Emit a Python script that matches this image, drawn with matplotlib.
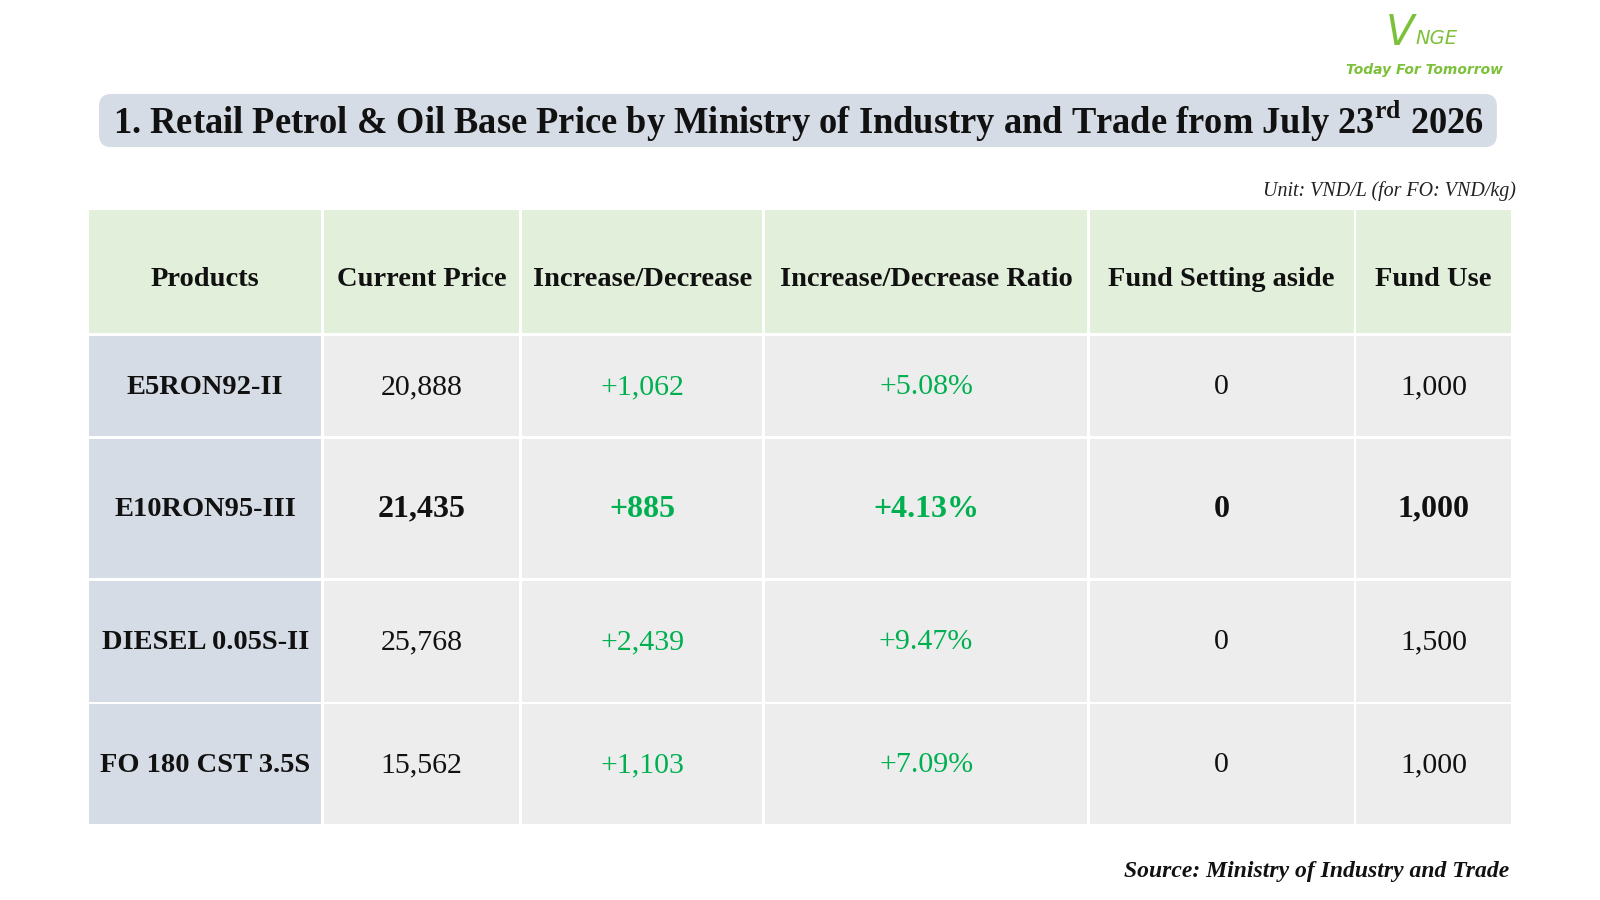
import matplotlib.pyplot as plt
from matplotlib.patches import Rectangle, FancyBboxPatch

plt.rcParams['font.family'] = ['Liberation Serif', 'DejaVu Serif']
plt.rcParams['mathtext.fontset'] = 'custom'
plt.rcParams['mathtext.rm'] = 'Liberation Serif:bold'

headers = ['Products', 'Current Price', 'Increase/Decrease', 'Increase/Decrease Ratio',
           'Fund Setting aside', 'Fund Use']
products = ['E5RON92-II', 'E10RON95-III', 'DIESEL 0.05S-II', 'FO 180 CST 3.5S']
current_price = ['20,888', '21,435', '25,768', '15,562']
change = ['+1,062', '+885', '+2,439', '+1,103']
change_ratio = ['+5.08%', '+4.13%', '+9.47%', '+7.09%']
fund_aside = ['0', '0', '0', '0']
fund_use = ['1,000', '1,000', '1,500', '1,000']
highlight_row = 1

col_edges = [86, 316, 510, 748, 1066, 1327, 1481]
row_edges = [206, 328, 428, 567, 688, 808]
gap = 2.5

fig = plt.figure(figsize=(16, 9), dpi=100)
ax = fig.add_axes([0, 0, 1, 1])
ax.set_xlim(0, 1567)
ax.set_ylim(881, 0)
ax.axis('off')

# title box
ax.add_patch(FancyBboxPatch((97, 92), 1369, 52, boxstyle='round,pad=0,rounding_size=12',
                            fc='#D6DCE5', ec='none'))
ax.text(782, 119, r'1. Retail Petrol & Oil Base Price by Ministry of Industry and Trade from July 23$^{\rm rd}$ 2026',
        ha='center', va='center', fontsize=26.3, fontweight='bold', color='#111111')

# logo
ax.text(1371, 32, 'V', ha='center', va='center', fontsize=30, color='#7DC13A',
        family='DejaVu Sans', style='italic')
ax.text(1386, 38, 'NGE', ha='left', va='center', fontsize=14, color='#7DC13A',
        family='DejaVu Sans', style='italic')
ax.text(1395, 69, 'Today For Tomorrow', ha='center', va='center', fontsize=10,
        color='#7DC13A', family='DejaVu Sans', style='italic', fontweight='bold')

ax.text(1485, 187, 'Unit: VND/L (for FO: VND/kg)', ha='right', va='center',
        fontsize=14.4, style='italic', color='#222222')

columns = [products, current_price, change, change_ratio, fund_aside, fund_use]

for c in range(len(headers)):
    x0, x1 = col_edges[c] + gap / 2, col_edges[c + 1] - gap / 2
    y0, y1 = row_edges[0], row_edges[1] - gap
    ax.add_patch(Rectangle((x0, y0), x1 - x0, y1 - y0, fc='#E2EFDA', ec='none'))
    ax.text((x0 + x1) / 2, (y0 + y1) / 2 + 8, headers[c], ha='center', va='center',
            fontsize=20.5, fontweight='bold', color='#111111')
    for r in range(len(products)):
        ya, yb = row_edges[r + 1] + gap / 2, row_edges[r + 2] - gap / 2
        fc = '#D6DCE5' if c == 0 else '#EDEDED'
        ax.add_patch(Rectangle((x0, ya), x1 - x0, yb - ya, fc=fc, ec='none'))
        colr = '#00B050' if c in (2, 3) else '#111111'
        bold = c == 0 or r == highlight_row
        size = 23 if (r == highlight_row and c > 0) else (20.5 if c == 0 else 21.5)
        ax.text((x0 + x1) / 2, (ya + yb) / 2 + 1, columns[c][r], ha='center', va='center',
                fontsize=size, fontweight='bold' if bold else 'normal', color=colr)

ax.text(1478, 853, 'Source: Ministry of Industry and Trade', ha='right', va='center',
        fontsize=17, style='italic', fontweight='bold', color='#111111')

fig.savefig('out.png', dpi=100, facecolor='white')
